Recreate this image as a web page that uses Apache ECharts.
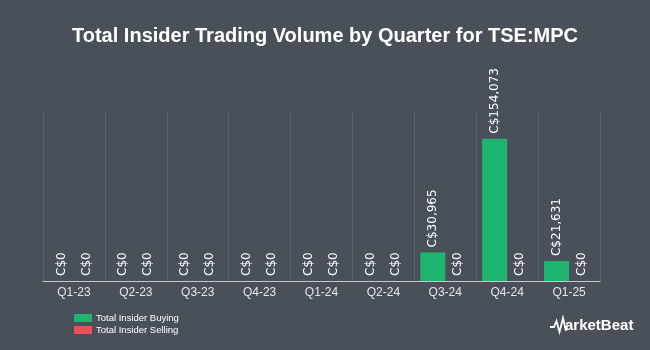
<!DOCTYPE html>
<html><head><meta charset="utf-8">
<script src="https://cdn.jsdelivr.net/npm/echarts@6/dist/echarts.min.js"></script>
<style>html,body{margin:0;padding:0;background:#4a505a;}#c{width:650px;height:350px;}</style>
</head><body><div id="c"></div>
<script>
const categories = ["Q1-23","Q2-23","Q3-23","Q4-23","Q1-24","Q2-24","Q3-24","Q4-24","Q1-25"];
const buying = [0,0,0,0,0,0,30965,154073,21631];
const selling = [0,0,0,0,0,0,0,0,0];
const fmt = v => "C$" + v.toLocaleString("en-US");
const chart = echarts.init(document.getElementById('c'));
const lbl = {show:true, position:'top', rotate:90, align:'left', verticalAlign:'middle', distance:5,
  color:'#ffffff', fontFamily:'DejaVu Sans', fontSize:12, formatter:p=>fmt(p.value)};
chart.setOption({
  backgroundColor:'#4a505a',
  animation:false,
  title:{text:'Total Insider Trading Volume by Quarter for TSE:MPC', left:'center', top:21, padding:[5,5,5,5],
    textStyle:{color:'#ffffff', fontFamily:'Liberation Sans', fontWeight:'bold', fontSize:20}},
  grid:{left:43, right:50, top:111, bottom:69},
  legend:{orient:'vertical', left:74, top:313, padding:0, itemWidth:18, itemHeight:8, itemGap:2,
    icon:'rect',
    textStyle:{color:'#ffffff', fontFamily:'Liberation Sans', fontSize:9.5, padding:[0,0,0,-1]},
    data:['Total Insider Buying','Total Insider Selling']},
  xAxis:{type:'category', data:categories,
    axisLine:{lineStyle:{color:'#c8c8c8', width:1}},
    axisTick:{alignWithLabel:true, length:4, lineStyle:{color:'#c8c8c8'}},
    axisLabel:{color:'#e6e6e6', fontFamily:'Liberation Sans', fontSize:12, margin:6},
    splitLine:{show:true, lineStyle:{color:'#5c626c', width:1}}},
  yAxis:{type:'value', min:0, max:184000, show:false, splitLine:{show:false}},
  series:[
    {name:'Total Insider Buying', type:'bar', data:buying, barWidth:25, barGap:'0%',
     itemStyle:{color:'#1db56f'}, label:lbl},
    {name:'Total Insider Selling', type:'bar', data:selling, barWidth:25,
     itemStyle:{color:'#e8505b'}, label:lbl}
  ],
  graphic:[
    {type:'polyline', shape:{points:[[550,327],[554,327],[556.5,321],[559.5,332],[563,318],[566,331]]},
     style:{stroke:'#ffffff', lineWidth:1.8, fill:null}},
    {type:'text', left:565, top:318, style:{text:'arketBeat', fill:'#ffffff',
     font:'bold 15px "Liberation Sans"'}}
  ]
});
</script></body></html>
